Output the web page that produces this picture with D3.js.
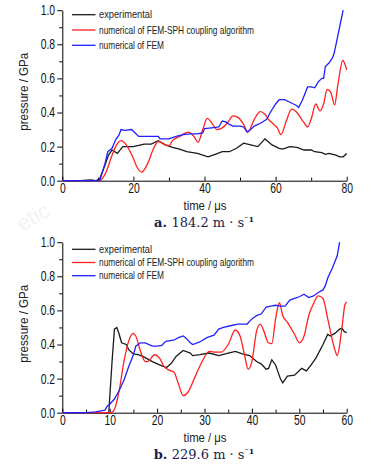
<!DOCTYPE html>
<html>
<head>
<meta charset="utf-8">
<script src="https://cdn.jsdelivr.net/npm/d3@7"></script>
<style>
  body { margin: 0; background: #fff; }
  svg { display: block; }
  .tick text { font-family: "Liberation Sans", Arial, sans-serif; }
</style>
</head>
<body>
<svg id="chart" width="373" height="469"></svg>
<script>
// ---- panel a : 184.2 m/s ----
const timeA = [0, 5, 8, 9.5, 10.5, 12, 13, 14, 15.5, 17, 20, 23, 25, 27, 29, 31, 33, 35, 38, 41, 43, 45, 47, 49, 51, 53, 55, 57, 59, 61, 62, 64, 66, 68, 70, 71, 73, 74, 75, 77, 78, 79, 80];
const expA  = [0, 0, 0.005, 0, 0.01, 0.09, 0.15, 0.18, 0.16, 0.2, 0.2, 0.215, 0.215, 0.235, 0.21, 0.195, 0.185, 0.17, 0.16, 0.14, 0.155, 0.17, 0.17, 0.19, 0.22, 0.21, 0.2, 0.245, 0.21, 0.19, 0.185, 0.2, 0.195, 0.18, 0.18, 0.17, 0.165, 0.155, 0.16, 0.15, 0.14, 0.14, 0.16];

const sphTimeA = [0, 10.5, 11.5, 12.5, 13.5, 15, 16.5, 18, 20, 21, 22.3, 24, 25.5, 27, 28.5, 30, 31, 33, 35.5, 37, 38.2, 39.5, 40.8, 42, 43.5, 45, 46.5, 48, 49.5, 51, 52.2, 54, 55.7, 57, 58, 59.5, 60.5, 61.5, 63, 64.5, 66, 67, 68, 69, 70, 71.3, 72.5, 73.5, 74.5, 75.5, 76.6, 77.5, 78.9, 80];
const sphA     = [0, 0, 0.02, 0.06, 0.12, 0.2, 0.235, 0.21, 0.13, 0.08, 0.05, 0.1, 0.18, 0.23, 0.215, 0.205, 0.235, 0.26, 0.285, 0.26, 0.225, 0.3, 0.365, 0.34, 0.3, 0.31, 0.34, 0.38, 0.37, 0.33, 0.285, 0.36, 0.405, 0.39, 0.36, 0.33, 0.31, 0.27, 0.35, 0.42, 0.4, 0.37, 0.34, 0.315, 0.36, 0.45, 0.41, 0.45, 0.535, 0.52, 0.445, 0.56, 0.705, 0.65];

const femTimeA = [0, 10.5, 11, 12, 12.8, 14, 15, 16, 16.5, 17.5, 19.5, 20.5, 21.5, 23, 27, 27.5, 30, 32, 34, 36, 38, 39.5, 40, 42, 44, 45, 46, 47, 48, 50, 51, 52, 53, 54, 56, 57.5, 58.5, 60, 61, 62.5, 64, 66, 66.5, 67.5, 69, 70, 71, 72, 73, 73.5, 74, 75, 76, 76.5, 77, 78, 79];
const femA     = [0, 0, 0.03, 0.1, 0.17, 0.19, 0.24, 0.27, 0.3, 0.295, 0.3, 0.28, 0.26, 0.26, 0.26, 0.245, 0.245, 0.26, 0.27, 0.275, 0.275, 0.28, 0.305, 0.31, 0.315, 0.35, 0.345, 0.33, 0.32, 0.32, 0.315, 0.285, 0.3, 0.32, 0.34, 0.36, 0.4, 0.45, 0.475, 0.475, 0.46, 0.44, 0.43, 0.47, 0.55, 0.55, 0.545, 0.58, 0.6, 0.6, 0.67, 0.69, 0.72, 0.75, 0.8, 0.9, 1.0];

// ---- panel b : 229.6 m/s ----
const timeB = [0, 9.8, 10.5, 11, 11.5, 12, 12.5, 13.5, 14, 15, 16, 17, 19, 21, 22, 23, 24, 25.5, 27, 27.5, 29, 31, 33, 35, 36.5, 38, 39.5, 41, 42, 43, 43.5, 44.2, 45, 46, 46.5, 47.5, 49, 50.5, 51.5, 52.5, 53.5, 55, 56, 56.5, 57.5, 58.5, 59, 59.5, 60];
const expB  = [0, 0, 0.3, 0.49, 0.5, 0.46, 0.41, 0.4, 0.37, 0.345, 0.34, 0.33, 0.3, 0.275, 0.265, 0.29, 0.33, 0.365, 0.35, 0.335, 0.34, 0.35, 0.335, 0.35, 0.36, 0.345, 0.335, 0.3, 0.285, 0.255, 0.26, 0.31, 0.28, 0.2, 0.175, 0.215, 0.22, 0.26, 0.245, 0.28, 0.32, 0.4, 0.46, 0.45, 0.465, 0.49, 0.495, 0.475, 0.47];

const sphTimeB = [0, 10.3, 11, 12, 13, 14, 15, 15.5, 16.5, 17.5, 18, 19.5, 20.5, 21.5, 22.5, 23.5, 24.5, 25.5, 26.5, 28, 29.5, 31, 32, 33.5, 35, 36.5, 37.5, 38.5, 39.2, 40, 41, 41.8, 42.5, 43.5, 44.2, 45, 45.8, 46.5, 47.5, 49, 50, 51, 52, 53, 54, 55, 56, 57.5, 58, 59, 59.6, 60];
const sphB     = [0, 0, 0.02, 0.13, 0.3, 0.42, 0.465, 0.45, 0.36, 0.3, 0.3, 0.34, 0.32, 0.27, 0.25, 0.24, 0.17, 0.1, 0.12, 0.21, 0.3, 0.36, 0.355, 0.355, 0.4, 0.485, 0.45, 0.33, 0.255, 0.3, 0.48, 0.52, 0.48, 0.41, 0.405, 0.55, 0.645, 0.57, 0.53, 0.46, 0.41, 0.45, 0.57, 0.64, 0.685, 0.67, 0.55, 0.37, 0.335, 0.5, 0.63, 0.65];

const femTimeB = [0, 5, 7, 9, 9.5, 10, 11, 12, 13, 14, 15, 15.5, 16.5, 17.5, 19, 20, 21, 21.5, 22, 23.5, 24.5, 25.5, 26, 27, 27.5, 29, 30.5, 32, 33, 34, 35.5, 37, 39, 40, 41, 42, 43, 44, 45, 46, 47, 48, 49, 50, 51, 52, 53, 54, 55, 55.5, 56, 57, 58, 58.5];
const femB     = [0, 0, 0.005, 0.015, 0.04, 0.05, 0.08, 0.13, 0.19, 0.27, 0.34, 0.39, 0.41, 0.41, 0.39, 0.39, 0.395, 0.41, 0.42, 0.425, 0.44, 0.45, 0.44, 0.41, 0.4, 0.415, 0.44, 0.455, 0.49, 0.5, 0.51, 0.52, 0.52, 0.55, 0.57, 0.58, 0.62, 0.625, 0.63, 0.625, 0.625, 0.66, 0.67, 0.68, 0.695, 0.675, 0.685, 0.705, 0.72, 0.745, 0.79, 0.85, 0.92, 1.0];

const legendLabels = ["experimental", "numerical of FEM-SPH coupling algorithm", "numerical of FEM"];
const seriesColors = ["#1a1a1a", "#ff2020", "#2020ff"];
const yTicks = [0, 0.2, 0.4, 0.6, 0.8, 1.0];
const yMinor = [0.1, 0.3, 0.5, 0.7, 0.9];

const svg = d3.select("#chart");
const sans = "'Liberation Sans', Arial, sans-serif";
const squeeze = 0.74; // the original font is a narrow one

// faint watermark
svg.append("text")
    .attr("transform", "translate(22,232) rotate(-30)")
    .attr("font-family", sans)
    .attr("font-size", 22)
    .attr("fill", "#f3f3f3")
    .text("etic");

function drawPanel(p) {
    let x = d3.scaleLinear().domain([0, p.xMax]).range([62.3, 346.7]);
    let y = d3.scaleLinear().domain([0, 1]).range([p.bottom, p.bottom - 170.5]);

    let g = svg.append("g");

    // minor y ticks
    g.append("g")
        .attr("transform", "translate(62.3,0)")
        .call(d3.axisLeft(y).tickValues(yMinor).tickSizeInner(3).tickSizeOuter(0).tickFormat(""))
        .call(a => a.select(".domain").remove());
    // major y axis
    g.append("g")
        .attr("transform", "translate(62.3,0)")
        .call(d3.axisLeft(y).tickValues(yTicks).tickSizeInner(5).tickSizeOuter(0).tickPadding(2)
            .tickFormat(d3.format(".1f")))
        .call(a => a.selectAll("text")
            .attr("font-size", 14).attr("fill", "#111")
            .attr("x", -7.2 / squeeze)
            .attr("transform", `scale(${squeeze},1)`));

    // minor x ticks
    g.append("g")
        .attr("transform", `translate(0,${p.bottom})`)
        .call(d3.axisBottom(x).tickValues(p.xMinor).tickSizeInner(-3).tickSizeOuter(0).tickFormat(""))
        .call(a => a.select(".domain").remove());
    // major x axis
    g.append("g")
        .attr("transform", `translate(0,${p.bottom})`)
        .call(d3.axisBottom(x).tickValues(p.xTicks).tickSizeInner(-4).tickSizeOuter(0).tickPadding(2))
        .call(a => a.selectAll("text")
            .attr("font-size", 14).attr("fill", "#111")
            .attr("transform", `scale(${squeeze},1)`));

    // series
    p.series.forEach((s, i) => {
        let line = d3.line()
            .x(d => x(d[0]))
            .y(d => y(d[1]))
            .curve(i == 1 ? d3.curveMonotoneX : d3.curveLinear);
        g.append("path")
            .datum(d3.zip(s.t, s.v))
            .attr("fill", "none")
            .attr("stroke", seriesColors[i])
            .attr("stroke-width", 1.3)
            .attr("d", line);
    });

    // legend
    legendLabels.forEach((lab, i) => {
        let ly = p.legendTop + i * p.legendStep;
        g.append("line")
            .attr("x1", 72).attr("x2", 95.5)
            .attr("y1", ly).attr("y2", ly)
            .attr("stroke", seriesColors[i]).attr("stroke-width", 1.3);
        g.append("text")
            .attr("x", 99).attr("y", ly + 3.7)
            .attr("font-family", sans)
            .attr("font-size", 10.5)
            .attr("fill", "#222")
            .attr("textLength", [53, 155, 65][i])
            .attr("lengthAdjust", "spacingAndGlyphs")
            .text(lab);
    });

    // axis titles
    g.append("text")
        .attr("transform", `translate(28,${p.bottom - 89}) rotate(-90)`)
        .attr("text-anchor", "middle")
        .attr("font-family", sans)
        .attr("font-size", 12.5)
        .attr("fill", "#222")
        .attr("textLength", 78)
        .attr("lengthAdjust", "spacingAndGlyphs")
        .text("pressure / GPa");
    g.append("text")
        .attr("x", 205).attr("y", p.bottom + 29)
        .attr("text-anchor", "middle")
        .attr("font-family", sans)
        .attr("font-size", 12.5)
        .attr("fill", "#222")
        .attr("textLength", 43)
        .attr("lengthAdjust", "spacingAndGlyphs")
        .text("time / μs");

    // caption
    let cap = g.append("text")
        .attr("x", 204).attr("y", p.bottom + 46)
        .attr("text-anchor", "middle")
        .attr("font-family", "'DejaVu Serif', serif")
        .attr("font-size", 13)
        .attr("fill", "#1c1c4c");
    cap.append("tspan").attr("font-weight", "bold").text(p.tag + " ");
    cap.append("tspan").text(p.speed + " m · s");
    cap.append("tspan").attr("dy", -5).attr("font-size", 8).attr("font-weight", "bold").text("⁻1");
}

drawPanel({
    xMax: 80, bottom: 180.7,
    xTicks: [0, 20, 40, 60, 80], xMinor: [10, 30, 50, 70],
    legendTop: 14.7, legendStep: 15.3,
    tag: "a.", speed: "184.2",
    series: [{t: timeA, v: expA}, {t: sphTimeA, v: sphA}, {t: femTimeA, v: femA}]
});

drawPanel({
    xMax: 60, bottom: 412.7,
    xTicks: [0, 10, 20, 30, 40, 50, 60], xMinor: [5, 15, 25, 35, 45, 55],
    legendTop: 249.3, legendStep: 13.2,
    tag: "b.", speed: "229.6",
    series: [{t: timeB, v: expB}, {t: sphTimeB, v: sphB}, {t: femTimeB, v: femB}]
});
</script>
</body>
</html>
